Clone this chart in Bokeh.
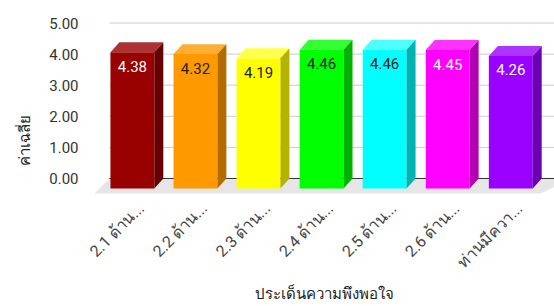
import math
from bokeh.plotting import figure
from bokeh.models import Range1d, FixedTicker, NumeralTickFormatter, Title, ColumnDataSource
from bokeh.core.properties import value
from bokeh.embed import file_html
from bokeh.resources import INLINE

# ---- data ----
categories = ["2.1 ด้าน...", "2.2 ด้าน...", "2.3 ด้าน...", "2.4 ด้าน...",
              "2.5 ด้าน...", "2.6 ด้าน...", "ท่านมีควา..."]
values = [4.38, 4.32, 4.19, 4.46, 4.46, 4.45, 4.26]
y_ticks = [0, 1, 2, 3, 4, 5]
x_title = "ประเด็นความพึงพอใจ"
y_title = "ค่าเฉลี่ย"

# ---- styles ----
front_colors = ["#990000", "#ff9900", "#ffff00", "#00ff00", "#00ffff", "#ff00ff", "#9900ff"]
top_colors   = ["#ad3333", "#ffad33", "#ffff4d", "#33ff33", "#4dffff", "#ff33ff", "#ad33ff"]
side_colors  = ["#660000", "#b36b00", "#b3b300", "#00b300", "#00b3b3", "#b300b3", "#6b00b3"]
label_colors = ["#ffffff", "#222222", "#222222", "#222222", "#222222", "#ffffff", "#ffffff"]
FONT = "Roboto"

# geometry (in data units)
OFF = -0.14      # front-face centre relative to tick
HW = 0.348       # half width of front face
DX = 0.142       # depth offset x
DY = 0.32        # depth offset y
X0, X1 = -0.741, 6.553
Y0, Y1 = -0.547, 5.338
WALL_X = -0.504  # left edge of back wall
FLOOR_Y = -0.482

p = figure(width=554, height=306, output_backend="svg", toolbar_location=None,
           x_range=Range1d(X0, X1), y_range=Range1d(Y0, Y1),
           min_border_left=93, min_border_right=0, min_border_top=12, min_border_bottom=111)
p.outline_line_color = None
p.xgrid.grid_line_color = None
p.ygrid.grid_line_color = None

# floor
p.patch(x=[WALL_X, X1 + 0.3, 6.33, X0], y=[0, 0, FLOOR_Y, FLOOR_Y],
        fill_color="#e6e6e6", line_color=None)

# gridlines on the back wall
p.segment(x0=[WALL_X] * (len(y_ticks) - 1), x1=[X1] * (len(y_ticks) - 1),
          y0=y_ticks[1:], y1=y_ticks[1:], line_color="#cccccc", line_width=1)
p.segment(x0=[WALL_X], x1=[X1], y0=[y_ticks[0]], y1=[y_ticks[0]],
          line_color="#333333", line_width=1)

# bars
n = len(values)
front_src = ColumnDataSource(dict(
    left=[i + OFF - HW for i in range(n)], right=[i + OFF + HW for i in range(n)],
    bottom=[-DY] * n, top=[v - DY for v in values], color=front_colors))
p.quad(left="left", right="right", bottom="bottom", top="top", source=front_src,
       fill_color="color", line_color=None)

top_xs, top_ys, side_xs, side_ys = [], [], [], []
for i, v in enumerate(values):
    l, r = i + OFF - HW, i + OFF + HW
    top_xs.append([l, r, r + DX, l + DX])
    top_ys.append([v - DY, v - DY, v, v])
    side_xs.append([r, r + DX, r + DX, r])
    side_ys.append([-DY, 0, v, v - DY])
p.patches(xs=top_xs, ys=top_ys, fill_color=top_colors, line_color=None)
p.patches(xs=side_xs, ys=side_ys, fill_color=side_colors, line_color=None)

# value labels
lab_src = ColumnDataSource(dict(x=[i + OFF for i in range(n)],
                                y=[v - DY - 0.45 for v in values],
                                t=["%.2f" % v for v in values], c=label_colors))
p.text(x="x", y="y", text="t", text_color="c", source=lab_src,
       text_align="center", text_baseline="middle", text_font_size="15px",
       text_font=value(FONT))

# axes
p.yaxis.ticker = FixedTicker(ticks=y_ticks)
p.yaxis.formatter = NumeralTickFormatter(format="0.00")
p.yaxis.axis_line_color = None
p.yaxis.major_tick_line_color = None
p.yaxis.minor_tick_line_color = None
p.yaxis.major_label_standoff = 10
p.yaxis.major_label_text_font_size = "15px"
p.yaxis.major_label_text_color = "#333333"
p.yaxis.major_label_text_font = FONT

p.xaxis.ticker = FixedTicker(ticks=list(range(n)))
p.xaxis.major_label_overrides = {i: c for i, c in enumerate(categories)}
p.xaxis.major_label_orientation = math.pi / 4
p.xaxis.axis_line_color = None
p.xaxis.major_tick_line_color = None
p.xaxis.minor_tick_line_color = None
p.xaxis.major_tick_out = 0
p.xaxis.major_tick_in = 0
p.xaxis.major_label_standoff = 10
p.xaxis.major_label_text_font_size = "16px"
p.xaxis.major_label_text_line_height = 1.0
p.xaxis.major_label_text_color = "#444444"
p.xaxis.major_label_text_font = FONT
p.xaxis.axis_label = x_title
p.xaxis.axis_label_standoff = 4
p.xaxis.axis_label_text_font_size = "15px"
p.xaxis.axis_label_text_line_height = 1.0
p.xaxis.axis_label_text_font_style = "normal"
p.xaxis.axis_label_text_color = "#222222"
p.xaxis.axis_label_text_font = FONT

p.add_layout(Title(text=y_title, align="left", offset=30, standoff=26,
                   text_font_size="15px", text_font_style="normal",
                   text_color="#222222", text_font=FONT), "left")

open("out.html", "w").write(file_html(p, INLINE))
